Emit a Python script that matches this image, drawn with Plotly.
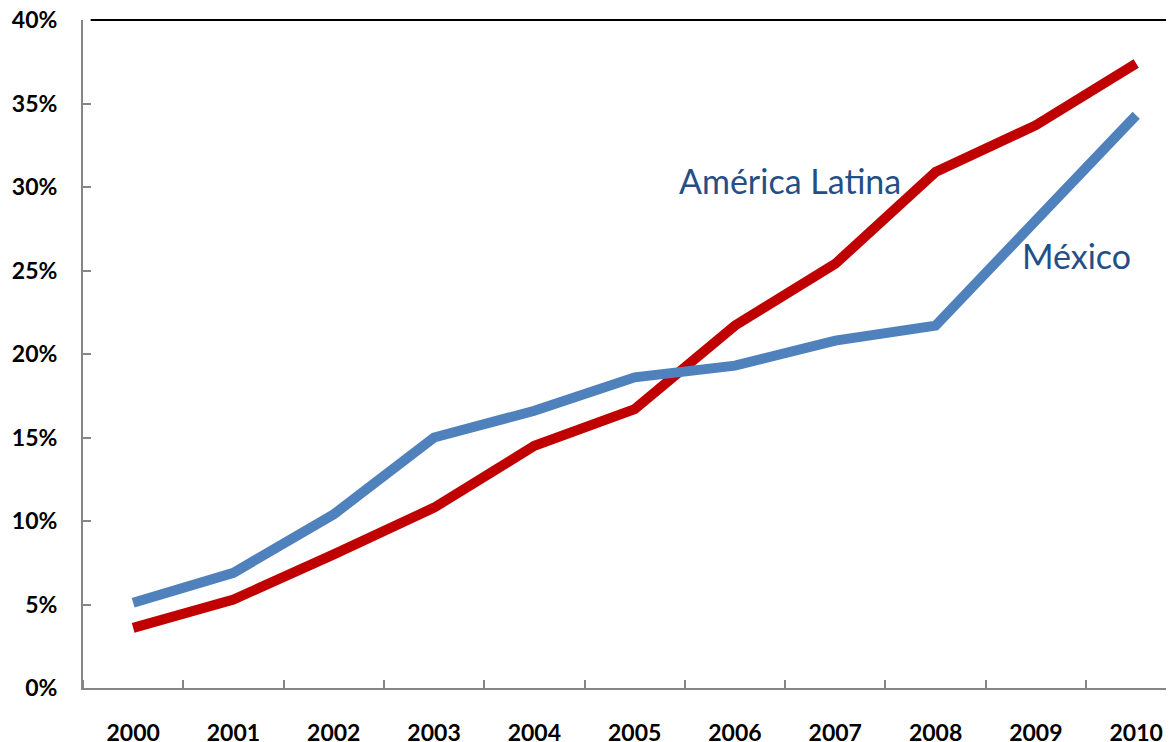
import plotly.graph_objects as go

years = ["2000", "2001", "2002", "2003", "2004", "2005", "2006", "2007", "2008", "2009", "2010"]
america_latina = [0.036, 0.053, 0.080, 0.108, 0.145, 0.167, 0.217, 0.254, 0.309, 0.337, 0.374]
mexico = [0.051, 0.069, 0.104, 0.150, 0.166, 0.186, 0.193, 0.208, 0.217, 0.281, 0.343]
y_ticks = [0, 0.05, 0.10, 0.15, 0.20, 0.25, 0.30, 0.35, 0.40]

xs = list(range(len(years)))

fig = go.Figure()
fig.add_trace(go.Scatter(x=xs, y=america_latina, mode="lines", name="América Latina",
                         line=dict(color="#C00000", width=10), showlegend=False))
fig.add_trace(go.Scatter(x=xs, y=mexico, mode="lines", name="México",
                         line=dict(color="#4F81BD", width=10), showlegend=False))

fig.update_layout(
    width=1166, height=734,
    margin=dict(l=75, r=0, t=12, b=54, autoexpand=False),
    paper_bgcolor="white", plot_bgcolor="white",
    font=dict(family="Lato", color="black"),
    xaxis=dict(
        range=[-0.5, 10.377],
        tickvals=xs, ticktext=years,
        ticks="", showgrid=False, zeroline=False, automargin=False,
        showline=True, linecolor="#868686", linewidth=2,
        tickfont=dict(size=23, family="Lato", color="black", weight="bold"),
        ticklabelstandoff=23, ticklabeloverflow="allow",
        minor=dict(tick0=0.5, dtick=1, ticks="inside", ticklen=8, tickcolor="#868686", tickwidth=2),
    ),
    yaxis=dict(
        range=[0, 0.40],
        tickvals=y_ticks, tickformat=".0%",
        ticks="inside", ticklen=8, tickcolor="#868686", tickwidth=2,
        showgrid=False, zeroline=False, automargin=False,
        showline=True, linecolor="#868686", linewidth=2,
        tickfont=dict(size=23, family="Lato", color="black", weight="bold"),
        ticklabelstandoff=19, ticklabeloverflow="allow",
    ),
    shapes=[dict(type="line", xref="paper", yref="paper", x0=0.007, x1=1, y0=1, y1=1,
                 line=dict(color="black", width=2))],
    annotations=[
        dict(x=6.55, y=0.304, xref="x", yref="y", text="América Latina", showarrow=False,
             font=dict(family="Lato", size=34, color="#254E87"), xanchor="center", yanchor="middle"),
        dict(x=9.40, y=0.259, xref="x", yref="y", text="México", showarrow=False,
             font=dict(family="Lato", size=34, color="#254E87"), xanchor="center", yanchor="middle"),
    ],
)

fig.write_html("out.html")
